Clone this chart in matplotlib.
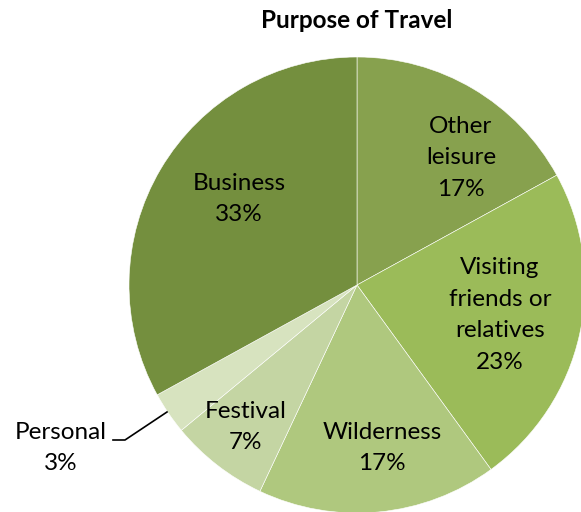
import matplotlib
matplotlib.use("Agg")
import matplotlib.pyplot as plt

categories = ["Other\nleisure", "Visiting\nfriends or\nrelatives", "Wilderness", "Festival", "Personal", "Business"]
values = [17, 23, 17, 7, 3, 33]
colors = ["#87A14E", "#9BBB59", "#AFC87E", "#C4D5A3", "#D7E3BF", "#748F3E"]

# label layout (pixel coords, y from top)
label_pos = [(461, 158), (500, 315), (382, 448), (246, 427), (61, 448), (239, 199)]

W, H = 581, 512
fig = plt.figure(figsize=(W / 100, H / 100), dpi=100)
ax = fig.add_axes([0, 0, 1, 1])
plt.rcParams['font.family'] = ['Lato', 'DejaVu Sans']

cx, cy, r = 357, 285, 228
ax.pie(values, colors=colors, startangle=90, counterclock=False,
       center=(cx, H - cy), radius=r,
       wedgeprops=dict(edgecolor="white", linewidth=0.4))
ax.set_xlim(0, W)
ax.set_ylim(0, H)
ax.set_aspect("equal")
ax.axis("off")

for cat, v, (x, y) in zip(categories, values, label_pos):
    ax.text(x, H - y, f"{cat}\n{v}%", ha="center", va="center",
            fontsize=17.5, linespacing=1.63, color="black", family=['Lato', 'DejaVu Sans'])

# leader line for Personal
ax.plot([113, 125, 167], [H - 440, H - 440, H - 412], color="black", linewidth=1.2)

ax.text(357, H - 21, "Purpose of Travel", ha="center", va="center",
        fontsize=17.5, fontweight="bold", family=['Lato', 'DejaVu Sans'])

fig.savefig("out.png", dpi=100)
